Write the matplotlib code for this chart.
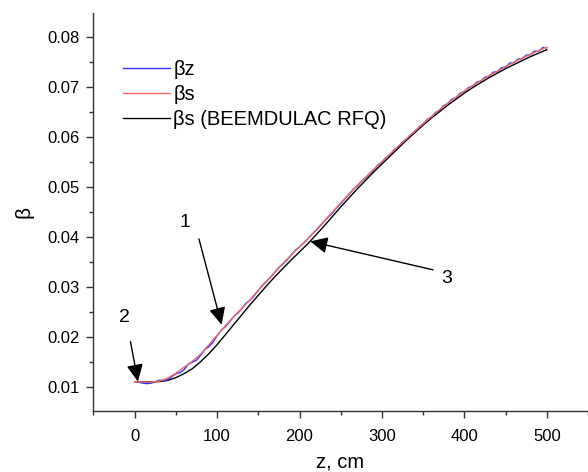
import matplotlib
matplotlib.use("Agg")
import matplotlib.pyplot as plt
from matplotlib.ticker import MultipleLocator

plt.rcParams['font.family'] = ['Liberation Sans', 'DejaVu Sans']

# z positions (cm) for the beta_s curves
z_coarse = list(range(0, 501, 10))

beta_s_beemdulac = [
    0.0110, 0.01098, 0.01095, 0.0110, 0.01125, 0.0118, 0.0126, 0.0136, 0.0150, 0.0166,
    0.0184, 0.0204, 0.0224, 0.0244, 0.0264, 0.0283, 0.0302, 0.0320, 0.0337, 0.0354,
    0.0370, 0.0386, 0.0404, 0.0422, 0.0441, 0.0460, 0.0478, 0.0496, 0.0513, 0.0530,
    0.0546, 0.0562, 0.0578, 0.0594, 0.0609, 0.0624, 0.0638, 0.0651, 0.0664, 0.0676,
    0.0688, 0.0699, 0.0709, 0.0719, 0.0728, 0.0737, 0.0745, 0.0753, 0.0761, 0.0768,
    0.0775,
]

beta_s = [
    0.0110, 0.01095, 0.01090, 0.0111, 0.0117, 0.0127, 0.0139, 0.0151, 0.0165, 0.0184,
    0.0203, 0.0222, 0.0240, 0.0257, 0.0274, 0.0293, 0.0311, 0.0329, 0.0347, 0.0364,
    0.0380, 0.0396, 0.0414, 0.0432, 0.0450, 0.0468, 0.0486, 0.0503, 0.0519, 0.0535,
    0.0551, 0.0566, 0.0582, 0.0597, 0.0612, 0.0627, 0.0641, 0.0655, 0.0668, 0.0680,
    0.0692, 0.0703, 0.0713, 0.0723, 0.0732, 0.0741, 0.0750, 0.0758, 0.0766, 0.0773,
    0.0780,
]

# z positions (cm) for beta_z, sampled finer to show its oscillation
z_fine = list(range(0, 501, 5))

beta_z = [
    0.0110, 0.0109, 0.0107, 0.0106, 0.0107, 0.0110, 0.0113, 0.0112, 0.0114, 0.0120,
    0.0126, 0.0128, 0.0134, 0.0145, 0.0149, 0.0153, 0.0163, 0.0174, 0.0180, 0.0189,
    0.0202, 0.0213, 0.0220, 0.0230, 0.0240, 0.0247, 0.0256, 0.0267, 0.0273, 0.0282,
    0.0293, 0.0303, 0.0311, 0.0319, 0.0329, 0.0339, 0.0346, 0.0354, 0.0364, 0.0373,
    0.0380, 0.0388, 0.0396, 0.0405, 0.0413, 0.0422, 0.0431, 0.0440, 0.0448, 0.0458,
    0.0467, 0.0476, 0.0485, 0.0495, 0.0502, 0.0511, 0.0518, 0.0527, 0.0534, 0.0544,
    0.0550, 0.0559, 0.0565, 0.0575, 0.0581, 0.0590, 0.0596, 0.0605, 0.0611, 0.0620,
    0.0626, 0.0635, 0.0640, 0.0649, 0.0654, 0.0663, 0.0667, 0.0676, 0.0679, 0.0688,
    0.0691, 0.0699, 0.0702, 0.0710, 0.0712, 0.0720, 0.0722, 0.0730, 0.0731, 0.0739,
    0.0740, 0.0748, 0.0749, 0.0756, 0.0757, 0.0764, 0.0765, 0.0772, 0.0772, 0.0779,
    0.0779,
]

legend_labels = ["βz", "βs", "βs (BEEMDULAC RFQ)"]

# numbered callouts: (label, label position, arrow tail, arrow head) in data units
callouts = [
    ("1", (61, 0.0428), (78, 0.0396), (105.5, 0.0224)),
    ("2", (-12, 0.0238), (-5, 0.0190), (4, 0.0110)),
    ("3", (379, 0.0317), (362, 0.0334), (213, 0.0391)),
]

fig = plt.figure(figsize=(5.88, 4.72), dpi=100)
ax = fig.add_axes([0.1575, 0.129, 0.8425, 0.844])

ax.plot(z_coarse, beta_s_beemdulac, color="black", lw=1.0, zorder=2)
ax.plot(z_fine, beta_z, color="#3030ff", lw=1.0, zorder=3)
ax.plot(z_coarse, beta_s, color="#f06a6a", lw=1.0, zorder=4)

ax.set_xlim(-51, 550)
ax.set_ylim(0.0051, 0.0849)

ax.xaxis.set_major_locator(MultipleLocator(100))
ax.xaxis.set_minor_locator(MultipleLocator(50))
ax.yaxis.set_major_locator(MultipleLocator(0.01))
ax.yaxis.set_minor_locator(MultipleLocator(0.005))
ax.set_xticks(range(0, 501, 100))
ytick_vals = [0.01, 0.02, 0.03, 0.04, 0.05, 0.06, 0.07, 0.08]
ax.set_yticks(ytick_vals)
ax.set_yticklabels([f"{v:.2f}" for v in ytick_vals])

for side in ("top", "right"):
    ax.spines[side].set_visible(False)
for side in ("left", "bottom"):
    ax.spines[side].set_color("#333333")
    ax.spines[side].set_linewidth(1.0)

ax.tick_params(which="major", direction="out", length=5, width=1, color="#333333",
               labelsize=12, pad=4)
ax.tick_params(axis="x", which="major", pad=8)
ax.tick_params(which="minor", direction="out", length=3, width=1, color="#333333")

ax.set_xlabel("z, cm", fontsize=14.5, labelpad=6)
ax.set_ylabel("β", fontsize=15, labelpad=10)

for label, text_xy, tail, head in callouts:
    ax.text(text_xy[0], text_xy[1], label, fontsize=14, ha="center", va="center")
    ax.annotate("", xy=head, xytext=tail,
                arrowprops=dict(arrowstyle="-|>,head_length=1.05,head_width=0.5",
                                color="black", lw=1.0, shrinkA=0, shrinkB=0))

handles = ax.get_lines()
leg = ax.legend([handles[1], handles[2], handles[0]], legend_labels,
                loc="upper left", bbox_to_anchor=(0.061, 0.882), frameon=False,
                fontsize=14.5, handlelength=2.35, handletextpad=0.15,
                labelspacing=0.3, borderaxespad=0, borderpad=0)

fig.savefig("out.png", dpi=100)
